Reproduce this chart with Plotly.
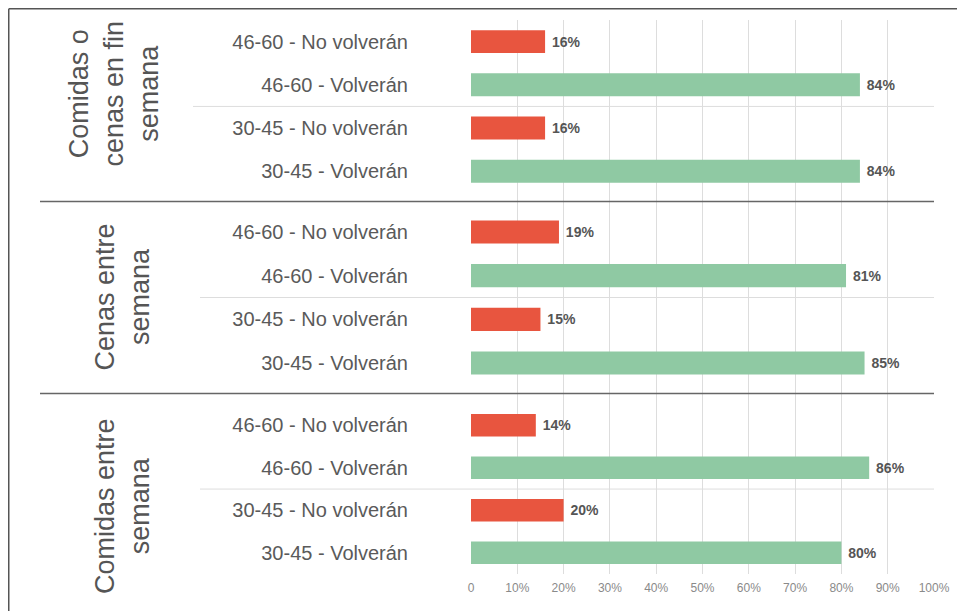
import plotly.graph_objects as go
from plotly.subplots import make_subplots

groups = ["Comidas o<br>cenas en fin<br>semana", "Cenas entre<br>semana", "Comidas entre<br>semana"]
categories = ["46-60 - No volverán", "46-60 - Volverán", "30-45 - No volverán", "30-45 - Volverán"]
values_fin_semana = [16, 84, 16, 84]
values_cenas = [19, 81, 15, 85]
values_comidas = [14, 86, 20, 80]
series = [values_fin_semana, values_cenas, values_comidas]
bar_colors = ["#E8553F", "#8FC9A3", "#E8553F", "#8FC9A3"]
tick_vals = [0, 10, 20, 30, 40, 50, 60, 70, 80, 90, 100]
tick_text = ["0", "10%", "20%", "30%", "40%", "50%", "60%", "70%", "80%", "90%", "100%"]

# page is offset by the 8px body margin
OFF = 8
W, H = 965 - OFF, 611 - OFF
ML = 471 - OFF
PW = 463
MR = W - ML - PW
MT = 20 - OFF
MB = H - (574 - OFF)
PH = H - MT - MB


def px_x(px):
    return (px - OFF - ML) / PW


def px_y(py):
    return 1 - (py - OFF - MT) / PH


bounds = [px_y(20), px_y(201.5), px_y(393.5), px_y(574)]
ranges = [[3.7, -0.5], [3.7, -0.7], [3.5, -0.75]]
label_y = [1.2, 1.5, 1.9]
label_x = [114, 122, 122]
light_start = [193, 200, 200]

FONT = "Liberation Sans, Arial, sans-serif"

fig = make_subplots(rows=3, cols=1, shared_xaxes=True, vertical_spacing=0)

for i, vals in enumerate(series):
    fig.add_trace(
        go.Bar(
            x=vals,
            y=categories,
            orientation="h",
            marker=dict(color=bar_colors, line=dict(width=0)),
            width=0.53,
            text=["\u00a0" + str(v) + "%" for v in vals],
            texttemplate="<b>%{text}</b>",
            textposition="outside",
            textfont=dict(family=FONT, size=14, color="#555555"),
            cliponaxis=False,
            showlegend=False,
        ),
        row=i + 1,
        col=1,
    )

shapes = []
annotations = []
for i in range(3):
    yname = "yaxis" if i == 0 else f"yaxis{i + 1}"
    xname = "xaxis" if i == 0 else f"xaxis{i + 1}"
    fig.layout[yname].update(
        domain=[bounds[i + 1], bounds[i]],
        range=ranges[i],
        type="category",
        showgrid=False,
        zeroline=False,
        showline=False,
        ticks="",
        ticklabelstandoff=62,
        tickfont=dict(family=FONT, size=20, color="#5a5a5a"),
    )
    fig.layout[xname].update(
        range=[0, 100],
        tickvals=tick_vals,
        ticktext=tick_text,
        showgrid=True,
        gridcolor="#dddddd",
        gridwidth=1,
        zeroline=False,
        showline=False,
        ticks="",
        showticklabels=(i == 2),
        ticklabelstandoff=5,
        tickfont=dict(family=FONT, size=12, color="#8a8a8a"),
    )
    yref = "y" if i == 0 else f"y{i + 1}"
    shapes.append(dict(type="line", xref="paper", yref=yref,
                       x0=px_x(light_start[i]), x1=px_x(934), y0=1.5, y1=1.5,
                       line=dict(color="#dddddd", width=1)))
    annotations.append(dict(text=groups[i], xref="paper", yref=yref,
                            x=px_x(label_x[i]), y=label_y[i], textangle=-90,
                            showarrow=False, xanchor="center", yanchor="middle",
                            font=dict(family=FONT, size=27, color="#555555")))

for b in bounds[1:3]:
    shapes.append(dict(type="line", xref="paper", yref="paper",
                       x0=px_x(40), x1=px_x(934), y0=b, y1=b,
                       line=dict(color="#666666", width=1.5)))

shapes.append(dict(type="line", xref="paper", yref="paper",
                   x0=px_x(8.75), x1=px_x(975), y0=px_y(8.75), y1=px_y(8.75),
                   line=dict(color="#555555", width=1.5)))
shapes.append(dict(type="line", xref="paper", yref="paper",
                   x0=px_x(8.75), x1=px_x(8.75), y0=px_y(8.75), y1=px_y(620),
                   line=dict(color="#555555", width=1.5)))

fig.update_layout(
    width=W,
    height=H,
    margin=dict(l=ML, r=MR, t=MT, b=MB),
    paper_bgcolor="white",
    plot_bgcolor="white",
    shapes=shapes,
    annotations=annotations,
)

fig.write_html("out.html")
